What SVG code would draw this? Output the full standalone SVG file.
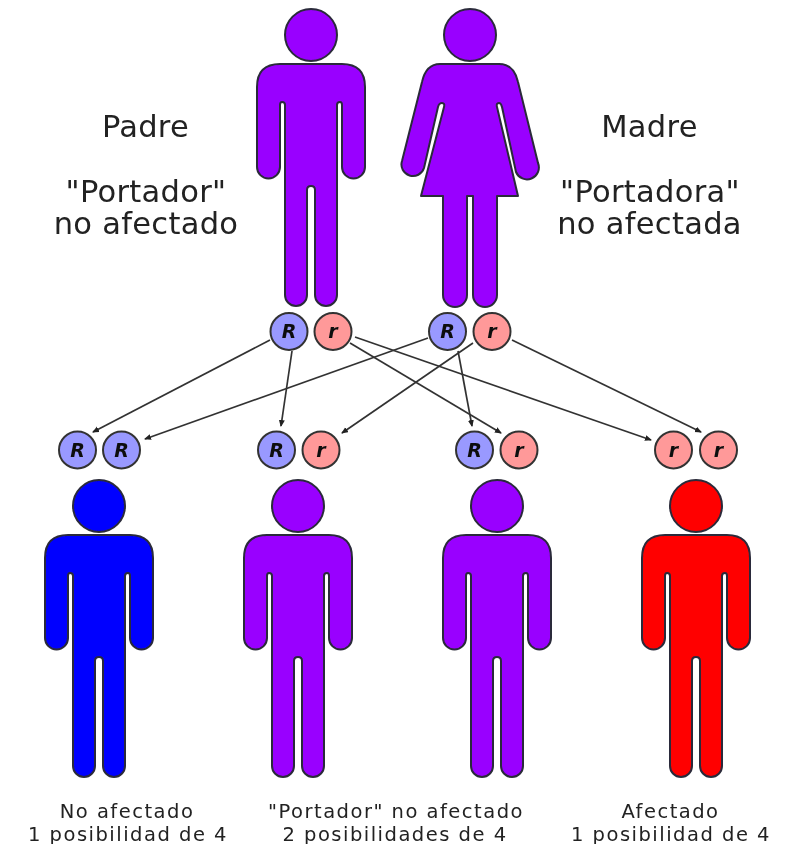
<svg xmlns="http://www.w3.org/2000/svg" width="793" height="844" viewBox="0 0 793 844">
<defs>
<style>
.fig{stroke:#2a2a3a;stroke-width:2;stroke-linejoin:round;filter:url(#b)}
.purple{fill:#9900ff}.blue{fill:#0000ff}.red{fill:#ff0000}
.al{fill:#9999ff;stroke:#333;stroke-width:2}
.rc{fill:#ff9999;stroke:#333;stroke-width:2}
.g{font-family:"DejaVu Sans",sans-serif;font-weight:bold;font-style:italic;font-size:19px;fill:#111;text-anchor:middle}
.t{font-family:"DejaVu Sans",sans-serif;fill:#222;text-anchor:middle}
.big{font-size:30.5px;letter-spacing:.3px}.small{font-size:19.5px;letter-spacing:1.5px}
.c{fill:none;stroke:#333;stroke-width:1.7;marker-end:url(#a)}
.soft{filter:url(#b)}
</style>
<filter id="b" x="-5%" y="-5%" width="110%" height="110%"><feGaussianBlur stdDeviation="0.6"/></filter>
<marker id="a" markerWidth="8" markerHeight="8" refX="6" refY="3" orient="auto" markerUnits="userSpaceOnUse"><path d="M0,0L7,3L0,6Z" fill="#222"/></marker>
<g id="man">
<circle cx="0" cy="35" r="26"/>
<path d="M-31,64H31Q54,64 54,87V167A11.500,11.500 0 0 1 31,167V105Q31,102 29,102Q26,102 26,105V295A11,11 0 0 1 4,295V190Q4,186 0,186Q-4,186 -4,190V295A11,11 0 0 1 -26,295V105Q-26,102 -29,102Q-31,102 -31,105V167A11.500,11.500 0 0 1 -54,167V87Q-54,64 -31,64Z"/>
</g>
</defs>
<g id="connectors" class="soft">
<path class="c" d="M270,340L93,432"/>
<path class="c" d="M292,351L281,426"/>
<path class="c" d="M350,343L501,433"/>
<path class="c" d="M355,337L651,440"/>
<path class="c" d="M428,338L145,439"/>
<path class="c" d="M458,351L472,426"/>
<path class="c" d="M473,343L342,433"/>
<path class="c" d="M512,340L701,432"/>
</g>
<g id="padre"><use href="#man" x="311" y="0" class="fig purple"/></g>
<g id="madre" class="fig purple">
<circle cx="470" cy="35" r="26"/>
<path d="M440,64H499Q514,64 518,82L538,163A11.500,11.500 0 0 1 516,172L502,107Q501,103 499,103Q496,103 497,107L518,196H497V295A12,12 0 0 1 473,295V196H467V295A12,12 0 0 1 443,295V196H421L444,107Q445,103 442,103Q439,103 438,107L424,168A11.500,11.500 0 0 1 402,161L422,82Q426,64 440,64Z"/>
</g>
<g id="child1"><use href="#man" x="99" y="471" class="fig blue"/></g>
<g id="child2"><use href="#man" x="298" y="471" class="fig purple"/></g>
<g id="child3"><use href="#man" x="497" y="471" class="fig purple"/></g>
<g id="child4"><use href="#man" x="696" y="471" class="fig red"/></g>
<g id="alleles" class="soft">
<circle class="al" cx="289" cy="331.500" r="18.500"/><text class="g" x="289" y="338">R</text>
<circle class="rc" cx="333" cy="331.500" r="18.500"/><text class="g" x="333" y="338">r</text>
<circle class="al" cx="447.500" cy="331.500" r="18.500"/><text class="g" x="447.500" y="338">R</text>
<circle class="rc" cx="492" cy="331.500" r="18.500"/><text class="g" x="492" y="338">r</text>
<circle class="al" cx="77.500" cy="450" r="18.500"/><text class="g" x="77.500" y="456.500">R</text>
<circle class="al" cx="121.500" cy="450" r="18.500"/><text class="g" x="121.500" y="456.500">R</text>
<circle class="al" cx="276.500" cy="450" r="18.500"/><text class="g" x="276.500" y="456.500">R</text>
<circle class="rc" cx="321" cy="450" r="18.500"/><text class="g" x="321" y="456.500">r</text>
<circle class="al" cx="474.500" cy="450" r="18.500"/><text class="g" x="474.500" y="456.500">R</text>
<circle class="rc" cx="519" cy="450" r="18.500"/><text class="g" x="519" y="456.500">r</text>
<circle class="rc" cx="673.500" cy="450" r="18.500"/><text class="g" x="673.500" y="456.500">r</text>
<circle class="rc" cx="718.500" cy="450" r="18.500"/><text class="g" x="718.500" y="456.500">r</text>
</g>
<g id="labels" class="soft">
<text class="t big" x="145.500" y="137">Padre</text>
<text class="t big" x="146" y="202">"Portador"</text>
<text class="t big" x="146" y="234">no afectado</text>
<text class="t big" x="649.500" y="137">Madre</text>
<text class="t big" x="650" y="202">"Portadora"</text>
<text class="t big" x="649.500" y="234">no afectada</text>
<text class="t small" x="127" y="817.500">No afectado</text>
<text class="t small" x="128" y="840.500">1 posibilidad de 4</text>
<text class="t small" x="396" y="817.500">"Portador" no afectado</text>
<text class="t small" x="395" y="840.500">2 posibilidades de 4</text>
<text class="t small" x="670.500" y="817.500">Afectado</text>
<text class="t small" x="671" y="840.500">1 posibilidad de 4</text>
</g>
</svg>
